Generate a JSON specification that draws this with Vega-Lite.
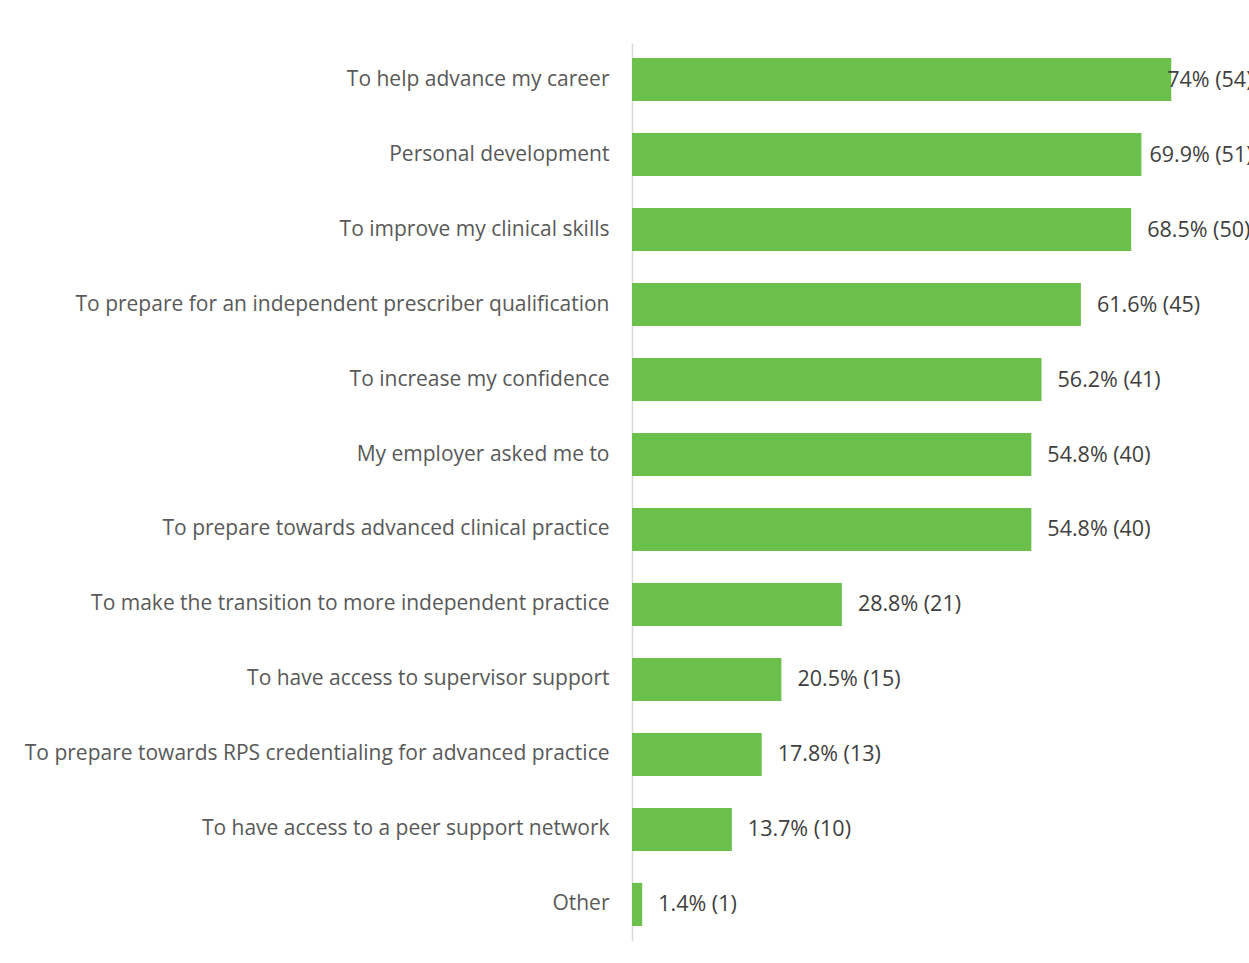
{
  "$schema": "https://vega.github.io/schema/vega-lite/v6.json",
  "autosize": {"type": "none"},
  "padding": {"left": 632, "top": 43, "right": 34, "bottom": 22},
  "width": 583,
  "height": 898,
  "background": "#ffffff",
  "config": {"view": {"stroke": null}, "font": "Open Sans"},
  "data": {
    "values": [
      {"reason": "To help advance my career", "pct": 74.0, "label": "74% (54)"},
      {"reason": "Personal development", "pct": 69.9, "label": "69.9% (51)"},
      {"reason": "To improve my clinical skills", "pct": 68.5, "label": "68.5% (50)"},
      {"reason": "To prepare for an independent prescriber qualification", "pct": 61.6, "label": "61.6% (45)"},
      {"reason": "To increase my confidence", "pct": 56.2, "label": "56.2% (41)"},
      {"reason": "My employer asked me to", "pct": 54.8, "label": "54.8% (40)"},
      {"reason": "To prepare towards advanced clinical practice", "pct": 54.8, "label": "54.8% (40)"},
      {"reason": "To make the transition to more independent practice", "pct": 28.8, "label": "28.8% (21)"},
      {"reason": "To have access to supervisor support", "pct": 20.5, "label": "20.5% (15)"},
      {"reason": "To prepare towards RPS credentialing for advanced practice", "pct": 17.8, "label": "17.8% (13)"},
      {"reason": "To have access to a peer support network", "pct": 13.7, "label": "13.7% (10)"},
      {"reason": "Other", "pct": 1.4, "label": "1.4% (1)"}
    ]
  },
  "encoding": {
    "y": {
      "field": "reason",
      "type": "nominal",
      "sort": null,
      "scale": {"paddingInner": 0.425, "paddingOuter": 0.2},
      "axis": {
        "title": null,
        "ticks": false,
        "domainColor": "#D9D9D9",
        "domainWidth": 1.5,
        "labelPadding": 23,
        "labelFontSize": 21,
        "labelColor": "#595959",
        "labelFont": "Open Sans",
        "labelLimit": 700
      }
    },
    "x": {
      "field": "pct",
      "type": "quantitative",
      "scale": {"domain": [0, 80], "nice": false, "zero": true},
      "axis": null
    }
  },
  "layer": [
    {"mark": {"type": "bar", "color": "#6BC04B", "orient": "horizontal"}},
    {
      "transform": [{"filter": "datum.pct < 69"}],
      "mark": {"type": "text", "align": "left", "baseline": "middle", "dx": 16, "dy": 1, "fontSize": 21.5, "color": "#404040", "font": "Open Sans"},
      "encoding": {"text": {"field": "label"}}
    },
    {
      "transform": [{"filter": "datum.pct >= 69 && datum.pct < 72"}],
      "mark": {"type": "text", "align": "left", "baseline": "middle", "dx": 8, "dy": 1, "fontSize": 21.5, "color": "#404040", "font": "Open Sans"},
      "encoding": {"text": {"field": "label"}}
    },
    {
      "transform": [{"filter": "datum.pct >= 72"}],
      "mark": {"type": "text", "align": "left", "baseline": "middle", "dx": -4, "dy": 1, "fontSize": 21.5, "color": "#404040", "font": "Open Sans"},
      "encoding": {"text": {"field": "label"}}
    }
  ]
}
